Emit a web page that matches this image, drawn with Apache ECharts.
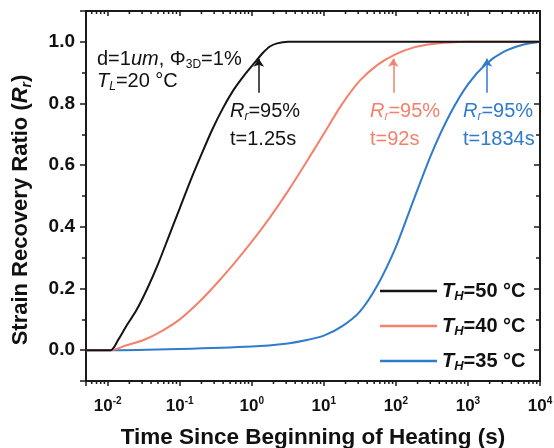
<!DOCTYPE html>
<html>
<head>
<meta charset="utf-8">
<script src="https://cdn.jsdelivr.net/npm/echarts@6/dist/echarts.min.js"></script>
<style>
html,body{margin:0;padding:0;background:#fff;}
#chart{width:554px;height:448px;}
</style>
</head>
<body>
<div id="chart"></div>
<script>
// ---- data ----
var seriesNames = ['T_H=50 °C', 'T_H=40 °C', 'T_H=35 °C'];
var t50 = [0.005, 0.011, 0.0141, 0.0178, 0.0251, 0.0355, 0.0501, 0.0708, 0.1, 0.141, 0.2, 0.282, 0.398, 0.562, 0.794, 1.12, 1.41, 1.78, 2.24, 3.16, 5.01, 10000];
var r50 = [0, 0, 0.035, 0.075, 0.13, 0.2, 0.28, 0.37, 0.46, 0.55, 0.635, 0.715, 0.785, 0.845, 0.893, 0.935, 0.963, 0.985, 0.995, 1.0, 1.0, 1.0];
var t40 = [0.005, 0.011, 0.0178, 0.0316, 0.0562, 0.1, 0.178, 0.316, 0.562, 1, 1.78, 3.16, 5.62, 10, 17.8, 31.6, 56.2, 100, 178, 316, 562, 1000, 10000];
var r40 = [0, 0, 0.015, 0.033, 0.062, 0.1, 0.152, 0.213, 0.28, 0.352, 0.43, 0.515, 0.607, 0.702, 0.797, 0.874, 0.926, 0.96, 0.982, 0.993, 0.998, 1.0, 1.0];
var t35 = [0.005, 0.01, 0.1, 1, 3.16, 5.62, 10, 17.8, 31.6, 56.2, 100, 178, 316, 562, 1000, 1780, 3160, 5620, 10000];
var r35 = [0, 0, 0.004, 0.012, 0.022, 0.032, 0.047, 0.077, 0.125, 0.213, 0.335, 0.49, 0.64, 0.765, 0.862, 0.928, 0.968, 0.99, 1.0];
var arrowTimes = [1.25, 92, 1834];
var arrowLabels = ['t=1.25s', 't=92s', 't=1834s'];
var xMin = 0.005, xMax = 10000;
var yMin = -0.1, yMax = 1.1;
var minorTickTimes = [];
[0.001, 0.01, 0.1, 1, 10, 100, 1000].forEach(function (d) {
  for (var k = 2; k <= 9; k++) { var v = k * d; if (v > xMin * 1.0001 && v < xMax) minorTickTimes.push(v); }
});

var colors = ['#141414', '#f5806c', '#2f7bcc'];
var FONT = 'Liberation Sans';

function pairs(ts, rs) { return ts.map(function (t, i) { return [t, rs[i]]; }); }

var chart = echarts.init(document.getElementById('chart'), null, {renderer: 'canvas'});

function lineSeries(name, data, color, idx) {
  return {
    name: name, type: 'line', data: data, symbol: 'none', smooth: 0.25,
    lineStyle: {color: color, width: 2}, itemStyle: {color: color},
    z: 3 - idx,
    markLine: {
      silent: true, symbol: ['none', 'arrow'], symbolSize: 8,
      lineStyle: {color: color, width: 1.5, type: 'solid'},
      label: {show: false},
      data: [[{coord: [arrowTimes[idx], 0.835]}, {coord: [arrowTimes[idx], 0.945]}]]
    }
  };
}

var legendRich = {
  it: {fontFamily: FONT, fontSize: 20, fontWeight: 'bold', fontStyle: 'italic', color: '#111', lineHeight: 24},
  subi: {fontFamily: FONT, fontSize: 13, fontWeight: 'bold', fontStyle: 'italic', color: '#111', lineHeight: 8, verticalAlign: 'bottom'},
  n: {fontFamily: FONT, fontSize: 20, fontWeight: 'bold', color: '#111', lineHeight: 24}
};

function annRich(color) {
  return {
    it: {fontFamily: FONT, fontSize: 20, fontStyle: 'italic', fill: color, lineHeight: 23},
    subi: {fontFamily: FONT, fontSize: 12, fontStyle: 'italic', fill: color, lineHeight: 7, verticalAlign: 'bottom'},
    sub: {fontFamily: FONT, fontSize: 12, fill: color, lineHeight: 7, verticalAlign: 'bottom'},
    n: {fontFamily: FONT, fontSize: 20, fill: color, lineHeight: 23}
  };
}
function textEl(x, y, text, color) {
  return {type: 'text', left: x, top: y, z: 10,
    style: {text: text, rich: annRich(color), fill: color, fontFamily: FONT, fontSize: 20}};
}

var option = {
  backgroundColor: '#fff',
  animation: false,
  grid: {left: 86, right: 14, top: 11, bottom: 67, containLabel: false, outerBoundsMode: 'none'},
  xAxis: [{
    type: 'log', logBase: 10, min: xMin, max: xMax,
    name: 'Time Since Beginning of Heating (s)', nameLocation: 'middle', nameGap: 45,
    nameTextStyle: {fontFamily: FONT, fontSize: 22.5, fontWeight: 'bold', color: '#111'},
    axisLine: {show: true, onZero: false, lineStyle: {color: '#1a1a1a', width: 2}},
    axisTick: {show: true, inside: false, length: 5, lineStyle: {color: '#1a1a1a', width: 1.5}},
    splitLine: {show: false},
    axisLabel: {
      margin: 15, showMinLabel: true, showMaxLabel: true,
      formatter: function (v) {
        var e = Math.log(v) / Math.LN10;
        if (Math.abs(e - Math.round(e)) > 1e-6) return '';
        return '{b|10}{sup|' + Math.round(e) + '}';
      },
      rich: {
        b: {fontFamily: FONT, fontSize: 17, fontWeight: 'bold', color: '#111', lineHeight: 20},
        sup: {fontFamily: FONT, fontSize: 10, fontWeight: 'bold', color: '#111', lineHeight: 9, verticalAlign: 'top'}
      }
    }
  }, {
    type: 'log', logBase: 10, min: xMin, max: xMax, position: 'top',
    axisLine: {show: true, onZero: false, lineStyle: {color: '#1a1a1a', width: 2}},
    axisTick: {show: true, inside: true, length: 5, lineStyle: {color: '#1a1a1a', width: 1.5}},
    axisLabel: {show: false}, splitLine: {show: false}
  }],
  yAxis: [{
    type: 'value', min: yMin, max: yMax,
    name: '{n|Strain Recovery Ratio (}{it|R}{subi|r}{n|)}', nameLocation: 'middle', nameGap: 52, nameRotate: 90,
    nameTextStyle: {
      padding: [0, 28, 0, 0],
      rich: {
        n: {fontFamily: FONT, fontSize: 22, fontWeight: 'bold', color: '#111', lineHeight: 26},
        it: {fontFamily: FONT, fontSize: 22, fontWeight: 'bold', fontStyle: 'italic', color: '#111', lineHeight: 26},
        subi: {fontFamily: FONT, fontSize: 14, fontWeight: 'bold', fontStyle: 'italic', color: '#111', lineHeight: 8, verticalAlign: 'bottom'}
      }
    },
    axisLine: {show: true, onZero: false, lineStyle: {color: '#1a1a1a', width: 2}},
    axisTick: {show: true, inside: false, length: 6, lineStyle: {color: '#1a1a1a', width: 1.5}},
    minorTick: {show: true, splitNumber: 2, length: 4, lineStyle: {color: '#1a1a1a', width: 1.5}},
    splitLine: {show: false},
    axisLabel: {
      margin: 11, fontFamily: FONT, fontSize: 19, fontWeight: 'bold', color: '#111',
      formatter: function (v) { if (v < -0.01 || v > 1.05) return ''; return v.toFixed(1); }
    }
  }, {
    type: 'value', min: yMin, max: yMax, position: 'right',
    axisLine: {show: true, onZero: false, lineStyle: {color: '#1a1a1a', width: 2}},
    axisTick: {show: true, inside: true, length: 6, lineStyle: {color: '#1a1a1a', width: 1.5}},
    minorTick: {show: true, splitNumber: 2, length: 4, lineStyle: {color: '#1a1a1a', width: 1.5}},
    axisLabel: {show: false}, splitLine: {show: false}
  }],
  legend: {
    data: seriesNames, orient: 'vertical', left: 375, top: 276,
    icon: 'rect', itemWidth: 57, itemHeight: 2.5, itemGap: 13,
    formatter: function (name) {
      var m = name.match(/^T_H(.*)$/);
      return '{it|T}{subi|H}{n|' + m[1] + '}';
    },
    textStyle: {rich: legendRich, padding: [0, 0, 0, 0]}
  },
  series: [
    lineSeries(seriesNames[0], pairs(t50, r50), colors[0], 0),
    lineSeries(seriesNames[1], pairs(t40, r40), colors[1], 1),
    lineSeries(seriesNames[2], pairs(t35, r35), colors[2], 2),
    {
      type: 'custom', silent: true, xAxisIndex: 0, yAxisIndex: 0, clip: false,
      data: minorTickTimes.map(function (t) { return [t, 0]; }),
      encode: {x: 0, y: 1},
      renderItem: function (params, api) {
        var x = api.coord([api.value(0), 0])[0];
        var cs = params.coordSys;
        var b = cs.y + cs.height, t = cs.y;
        return {type: 'group', children: [
          {type: 'line', shape: {x1: x, y1: b, x2: x, y2: b + 3}, style: {stroke: '#1a1a1a', lineWidth: 1.5}},
          {type: 'line', shape: {x1: x, y1: t, x2: x, y2: t + 3}, style: {stroke: '#1a1a1a', lineWidth: 1.5}}
        ]};
      }
    }
  ],
  graphic: [
    textEl(97, 49, '{n|d=1}{it|um}{n|, Φ}{sub|3D}{n|=1%}', '#111'),
    textEl(97, 71, '{it|T}{subi|L}{n|=20 °C}', '#111'),
    textEl(230, 101, '{it|R}{subi|r}{n|=95%}', colors[0]),
    textEl(230, 129, '{n|' + arrowLabels[0] + '}', colors[0]),
    textEl(370, 101, '{it|R}{subi|r}{n|=95%}', colors[1]),
    textEl(370, 129, '{n|' + arrowLabels[1] + '}', colors[1]),
    textEl(463, 101, '{it|R}{subi|r}{n|=95%}', colors[2]),
    textEl(463, 129, '{n|' + arrowLabels[2] + '}', colors[2])
  ]
};
chart.setOption(option);
</script>
</body>
</html>
